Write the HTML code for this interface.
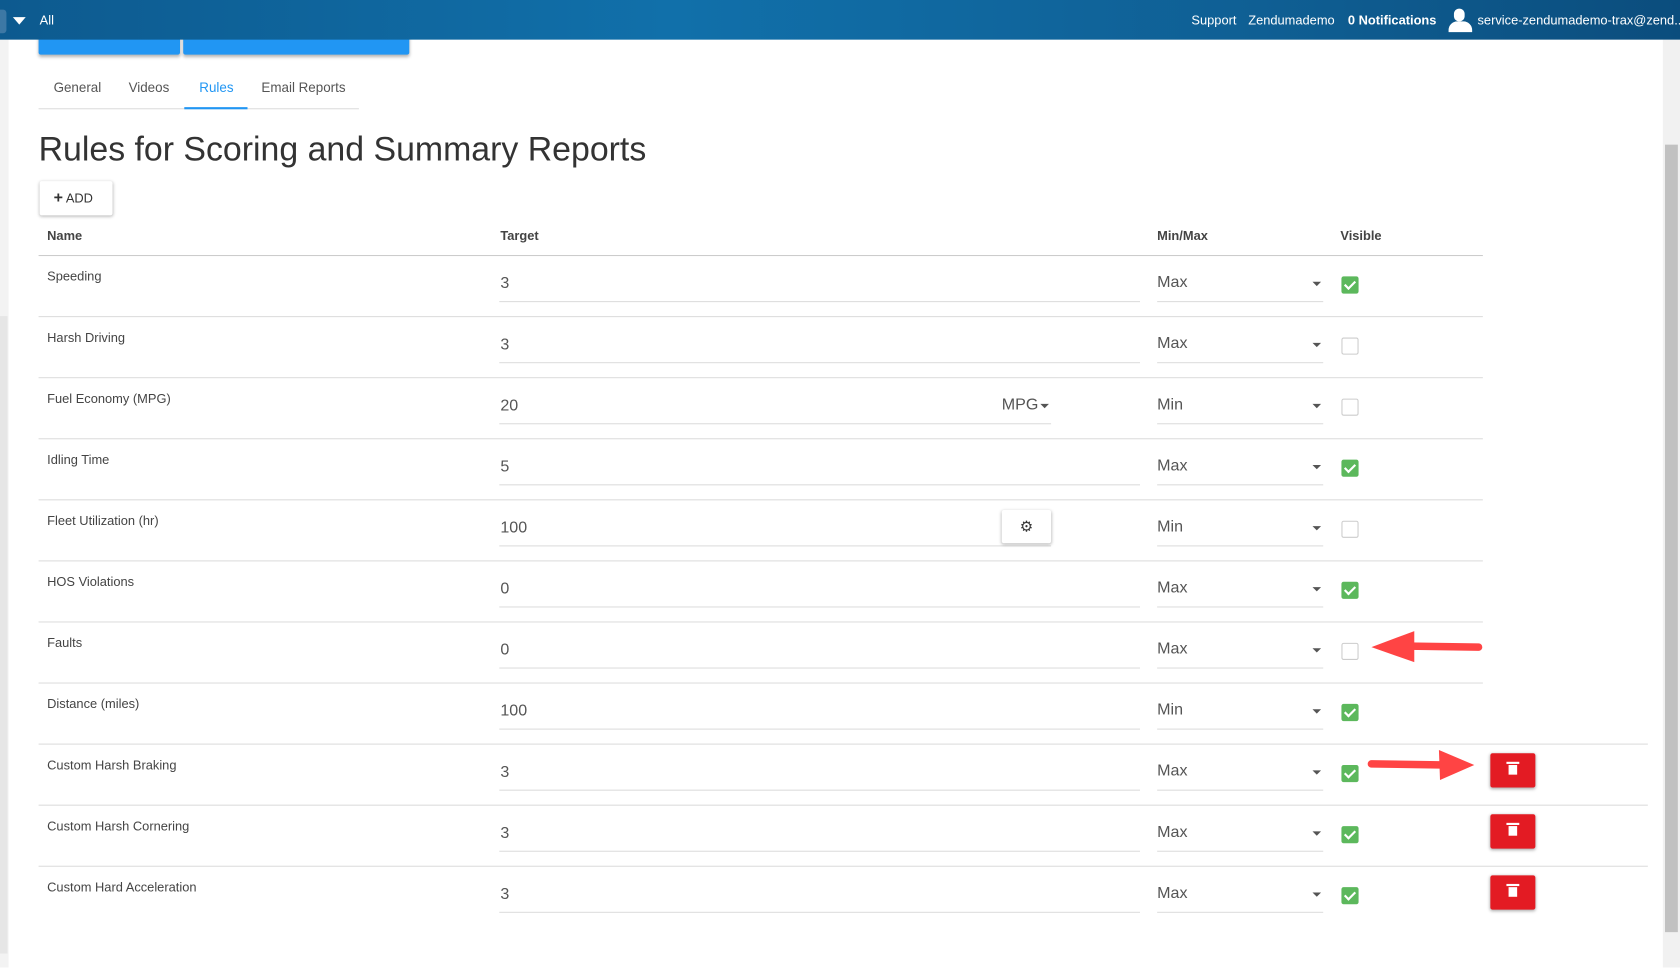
<!DOCTYPE html>
<html><head><meta charset="utf-8"><style>
html,body{margin:0;padding:0;width:1680px;height:968px;overflow:hidden;background:#fff}
#w{position:absolute;left:0;top:0;width:1568px;height:903px;transform:scale(1.07143);transform-origin:0 0;font-family:"Liberation Sans",sans-serif;color:#333}
.a{position:absolute}
.top{left:0;top:0;width:1568px;height:37px;background:linear-gradient(90deg,#0d5a8f,#1170aa 40%,#0f5f94 75%,#0b4d7d);color:#fff;font-size:12px}
.hl{height:1px;background:#ddd}
.nm{font-size:12px;color:#444}
.val{font-size:15px;color:#555}
.ul{height:1px;background:#ddd}
.car{width:0;height:0;border-left:4px solid transparent;border-right:4px solid transparent;border-top:4px solid #555}
.cb{width:14px;height:14px;border:1px solid #ccc;border-radius:2px;background:#fff}
.cb.on{background:#5cb85c;border-color:#5cb85c}
.cb.on:after{content:"";position:absolute;left:4px;top:1px;width:4px;height:8px;border:solid #fff;border-width:0 2px 2px 0;transform:rotate(45deg)}
.del{width:42px;height:32px;background:#e31b23;border-radius:2px;box-shadow:0 1px 3px rgba(0,0,0,.35)}
.del i{position:absolute;left:17px;top:11px;width:8px;height:9px;background:#fff}
.del b{position:absolute;left:15px;top:8px;width:12px;height:2px;background:#fff}
</style></head><body><div id="w">
<div class="a" style="left:0;top:37px;width:8px;height:866px;background:#f3f3f3"></div>
<div class="a" style="left:0;top:295px;width:7px;height:595px;background:#e6e6e6"></div>
<div class="a" style="left:1552px;top:37px;width:16px;height:866px;background:#f1f1f1"></div>
<div class="a" style="left:1554px;top:135px;width:12px;height:735px;background:#c1c1c1"></div>
<div class="a" style="left:36px;top:28px;width:132px;height:23px;background:#2196f3;border-radius:2px;box-shadow:0 2px 3px rgba(0,0,0,.3)"></div>
<div class="a" style="left:171px;top:28px;width:211px;height:23px;background:#2196f3;border-radius:2px;box-shadow:0 2px 3px rgba(0,0,0,.3)"></div>
<div class="a top">
 <div class="a" style="left:0;top:9px;width:6px;height:22px;background:#3d78a5;border-radius:0 3px 3px 0"></div>
 <div class="a" style="left:12px;top:16px;width:0;height:0;border-left:6px solid transparent;border-right:6px solid transparent;border-top:7px solid #fff"></div>
 <div class="a" style="left:37px;top:12px">All</div>
 <div class="a" style="left:1112px;top:12px">Support</div>
 <div class="a" style="left:1165px;top:12px">Zendumademo</div>
 <div class="a" style="left:1258px;top:12px;font-weight:bold">0 Notifications</div>
 <div class="a" style="left:1357px;top:8px;width:10px;height:12px;background:#fff;border-radius:5px"></div>
 <div class="a" style="left:1352px;top:20px;width:22px;height:10px;background:#fff;border-radius:8px 8px 0 0"></div>
 <div class="a" style="left:1379px;top:12px;white-space:nowrap">service-zendumademo-trax@zend...</div>
</div>
<div class="a" style="left:50px;top:75px;font-size:12.5px;color:#555">General</div>
<div class="a" style="left:120px;top:75px;font-size:12.5px;color:#555">Videos</div>
<div class="a" style="left:186px;top:75px;font-size:12.5px;color:#2196f3">Rules</div>
<div class="a" style="left:244px;top:75px;font-size:12.5px;color:#555">Email Reports</div>
<div class="a" style="left:36px;top:101px;width:299px;height:1px;background:#ddd"></div>
<div class="a" style="left:172px;top:100px;width:59px;height:2px;background:#2196f3"></div>
<div class="a" style="left:36px;top:121px;font-size:31.6px;color:#333">Rules for Scoring and Summary Reports</div>
<div class="a" style="left:37px;top:169px;width:68px;height:32px;background:#fff;border-radius:2px;box-shadow:0 1px 3px rgba(0,0,0,.3);font-size:12px;line-height:32px;color:#333"><span style="font-weight:bold;font-size:15px;margin-left:13px">+</span> ADD</div>
<div class="a" style="left:44px;top:213px;font-size:12px;font-weight:bold;color:#444">Name</div>
<div class="a" style="left:467px;top:213px;font-size:12px;font-weight:bold;color:#444">Target</div>
<div class="a" style="left:1080px;top:213px;font-size:12px;font-weight:bold;color:#444">Min/Max</div>
<div class="a" style="left:1251px;top:213px;font-size:12px;font-weight:bold;color:#444">Visible</div>
<div class="a hl" style="left:36px;top:238px;width:1348px;background:#ccc"></div>

<div id="rows"></div>
<script>
var R=[["Speeding","3","Max",1],["Harsh Driving","3","Max",0],["Fuel Economy (MPG)","20","Min",0],["Idling Time","5","Max",1],["Fleet Utilization (hr)","100","Min",0],["HOS Violations","0","Max",1],["Faults","0","Max",0],["Distance (miles)","100","Min",1],["Custom Harsh Braking","3","Max",1],["Custom Harsh Cornering","3","Max",1],["Custom Hard Acceleration","3","Max",1]];
var h="";
R.forEach(function(r,i){var t=238+57*i;
h+='<div class="a nm" style="left:44px;top:'+(t+13)+'px">'+r[0]+'</div>';
h+='<div class="a val" style="left:467px;top:'+(t+18)+'px">'+r[1]+'</div>';
var uw=(i==2||i==4)?515:598;
h+='<div class="a ul" style="left:466px;top:'+(t+43)+'px;width:'+uw+'px"></div>';
h+='<div class="a val" style="left:1080px;top:'+(t+17)+'px">'+r[2]+'</div>';
h+='<div class="a car" style="left:1225px;top:'+(t+25)+'px"></div>';
h+='<div class="a ul" style="left:1080px;top:'+(t+43)+'px;width:155px"></div>';
h+='<div class="a cb'+(r[3]?' on':'')+'" style="left:1252px;top:'+(t+20)+'px"></div>';
if(i<10)h+='<div class="a hl" style="left:36px;top:'+(t+57)+'px;width:'+(i>=7?1502:1348)+'px"></div>';
if(i>=8)h+='<div class="a del" style="left:1391px;top:'+(t+9)+'px"><b></b><i></i></div>';
});
document.getElementById("rows").innerHTML=h;
</script>
<div class="a val" style="left:935px;top:369px">MPG</div>
<div class="a car" style="left:971px;top:377px"></div>
<div class="a" style="left:935px;top:476px;width:46px;height:31px;background:#fff;border-radius:2px;box-shadow:0 1px 3px rgba(0,0,0,.3);text-align:center;line-height:31px;font-size:14px;color:#333">⚙</div>
<svg class="a" style="left:1270px;top:585px" width="120" height="150">
 <path d="M110,19 L45,18" stroke="#f44" stroke-width="7" stroke-linecap="round" fill="none"/>
 <polygon points="10,19 50,4 50,33" fill="#f44"/>
 <path d="M10,128 L80,129" stroke="#f44" stroke-width="7" stroke-linecap="round" fill="none"/>
 <polygon points="108,133 75,119 76,147" fill="#f44" transform="translate(-2,-4)"/>
</svg>
</div></body></html>
